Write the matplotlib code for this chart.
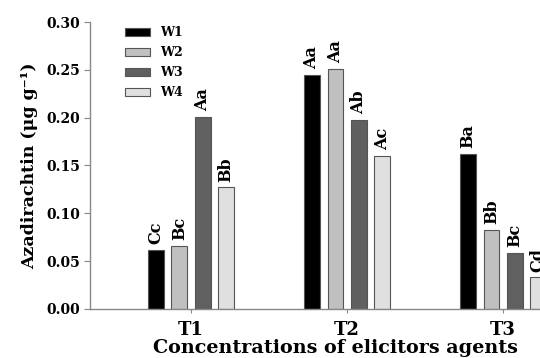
import numpy as np
import matplotlib
matplotlib.use('Agg')
import matplotlib.pyplot as plt

plt.rcParams['font.family'] = 'DejaVu Serif'
plt.rcParams['font.weight'] = 'bold'
plt.rcParams['axes.labelweight'] = 'bold'

treatments = ['T1', 'T2', 'T3']
series = ['W1', 'W2', 'W3', 'W4']
values = {
    'W1': [0.062, 0.245, 0.162],
    'W2': [0.066, 0.251, 0.083],
    'W3': [0.201, 0.198, 0.059],
    'W4': [0.127, 0.160, 0.033],
}
letters = {
    'W1': ['Cc', 'Aa', 'Ba'],
    'W2': ['Bc', 'Aa', 'Bb'],
    'W3': ['Aa', 'Ab', 'Bc'],
    'W4': ['Bb', 'Ac', 'Cd'],
}
colors = ['#000000', '#c0c0c0', '#606060', '#e0e0e0']

fig = plt.figure(figsize=(5.4, 3.58), dpi=100)
# axes runs past the right edge, like the cropped original
ax = fig.add_axes([0.1667, 0.137, 0.952, 0.8015])

x = np.arange(len(treatments))
width = 0.1
step = 0.15
for i, s in enumerate(series):
    pos = x + (i - 1.5) * step
    bars = ax.bar(pos, values[s], width, color=colors[i], edgecolor='#555555',
                  linewidth=0.8, label=s)
    for b, lab in zip(bars, letters[s]):
        ax.annotate(lab, (b.get_x() + b.get_width() / 2, b.get_height()),
                    xytext=(0, 4), textcoords='offset points', rotation=90,
                    ha='center', va='bottom', fontsize=11.5, fontweight='bold')

ax.set_xlim(-0.647, 2.647)
ax.set_ylim(0, 0.30)
ax.set_yticks(np.arange(0, 0.31, 0.05))
ax.set_yticklabels(['%.2f' % v for v in np.arange(0, 0.31, 0.05)], fontsize=10)
ax.set_xticks(x)
ax.set_xticklabels(treatments, fontsize=13)
ax.tick_params(axis='y', direction='out', length=4, color='#888888', pad=3)
ax.tick_params(axis='x', direction='out', length=3, color='#888888', pad=6)

for sp in ['top', 'right']:
    ax.spines[sp].set_visible(False)
for sp in ['left', 'bottom']:
    ax.spines[sp].set_color('#888888')
    ax.spines[sp].set_linewidth(1)

ax.set_ylabel('Azadirachtin (\u03bcg g\u207b\u00b9)', fontsize=12.5,
              fontweight='bold', labelpad=6)
ax.set_xlabel('Concentrations of elicitors agents', fontsize=13.8,
              fontweight='bold')
ax.xaxis.set_label_coords(0.477, -0.103)

ax.legend(loc='upper left', bbox_to_anchor=(0.068, 0.985), frameon=False,
          fontsize=9, handlelength=2.0, handleheight=0.6, handletextpad=0.8,
          labelspacing=0.55, borderpad=0, borderaxespad=0)

fig.savefig('out.png', dpi=100)
